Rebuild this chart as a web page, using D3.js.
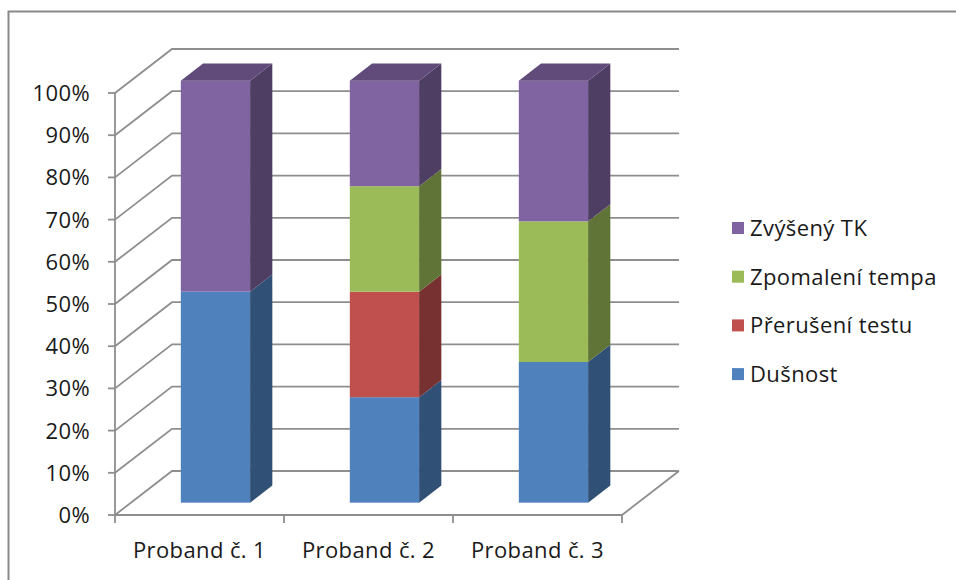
<!DOCTYPE html>
<html>
<head>
<meta charset="utf-8">
<script src="https://cdn.jsdelivr.net/npm/d3@7"></script>
<style>
  body { margin: 0; background: #fff; }
  text { font-family: "Open Sans", Lato, sans-serif; fill: #1a1a1a; letter-spacing: 0.4px; }
</style>
</head>
<body>
<div id="chart"></div>
<script>
/** Data */
var categories = ["Proband č. 1", "Proband č. 2", "Proband č. 3"];
var seriesNames = ["Dušnost", "Přerušení testu", "Zpomalení tempa", "Zvýšený TK"];
var dusnost = [1, 1, 1];
var preruseni = [0, 1, 0];
var zpomaleni = [0, 1, 1];
var zvyseny = [1, 1, 1];
var yTicks = [0, 0.1, 0.2, 0.3, 0.4, 0.5, 0.6, 0.7, 0.8, 0.9, 1];
var COLORS = ["#4F81BD", "#C0504D", "#9BBB59", "#8064A2"];

var width = 956, height = 580;

// front plane of the 3d box
var plot = {left: 115, right: 622, top: 93, bottom: 515};
// depth of the box in pixels
var depth = {dx: 57, dy: -44};
// bar front and back in box depth (0..1)
var barFront = 0.28, barBack = 0.67;

var svg = d3.select("#chart")
  .append("svg")
  .attr("width", width)
  .attr("height", height);

// outer chart border
svg.append("rect")
  .attr("x", 8.5)
  .attr("y", 11.5)
  .attr("width", 1000)
  .attr("height", 1000)
  .attr("fill", "none")
  .attr("stroke", "#898989")
  .attr("stroke-width", 2);

var x = d3.scaleBand()
  .domain(categories)
  .range([plot.left, plot.right])
  .padding(0);

var y = d3.scaleLinear()
  .domain([0, 1])
  .range([plot.bottom, plot.top]);

function off(p, d) {
  return [p[0] + depth.dx * d, p[1] + depth.dy * d];
}

// GRIDLINES (side wall + back wall) //
var grid = svg.append("g")
  .attr("stroke", "#8e8e8e")
  .attr("stroke-width", 1.8)
  .attr("fill", "none");

yTicks.forEach(function(t) {
  var p0 = [plot.left, y(t)];
  var p1 = off(p0, 1);
  var p2 = off([plot.right, y(t)], 1);
  grid.append("path")
    .attr("d", d3.line()([p0, p1, p2]));
});

// floor right edge + front axis
grid.append("path")
  .attr("d", d3.line()([[plot.left, plot.bottom], [plot.right, plot.bottom], off([plot.right, plot.bottom], 1)]));

// vertical axis line
grid.append("line")
  .attr("x1", plot.left).attr("x2", plot.left)
  .attr("y1", plot.top).attr("y2", plot.bottom);

// y ticks
yTicks.forEach(function(t) {
  grid.append("line")
    .attr("x1", plot.left - 7).attr("x2", plot.left)
    .attr("y1", y(t)).attr("y2", y(t));
});

// x ticks
var xEdges = categories.map(function(c) { return x(c); }).concat([plot.right]);
xEdges.forEach(function(e) {
  grid.append("line")
    .attr("x1", e).attr("x2", e)
    .attr("y1", plot.bottom).attr("y2", plot.bottom + 8);
});

// y labels
svg.append("g")
  .selectAll("text")
  .data(yTicks)
  .enter()
  .append("text")
    .attr("x", 90)
    .attr("y", function(d) { return y(d); })
    .attr("dy", "0.36em")
    .attr("text-anchor", "end")
    .style("font-size", "22px")
    .text(d3.format(".0%"));

// x labels
svg.append("g")
  .selectAll("text")
  .data(categories)
  .enter()
  .append("text")
    .attr("x", function(d) { return x(d) + x.bandwidth() / 2; })
    .attr("y", 558)
    .attr("text-anchor", "middle")
    .style("font-size", "22px")
    .text(function(d) { return d; });

// BARS //
var table = categories.map(function(c, i) {
  return {cat: c, "Dušnost": dusnost[i], "Přerušení testu": preruseni[i],
          "Zpomalení tempa": zpomaleni[i], "Zvýšený TK": zvyseny[i]};
});

var stacked = d3.stack()
  .keys(seriesNames)
  .offset(d3.stackOffsetExpand)(table);

var barW = x.bandwidth() * 0.41;
var bd = barBack - barFront;

var bars = svg.append("g");

categories.forEach(function(c, i) {
  var x0 = x(c) + (x.bandwidth() - barW) / 2;
  var x1 = x0 + barW;
  var topKey = -1;
  stacked.forEach(function(layer, k) {
    if (layer[i][1] - layer[i][0] > 0) topKey = k;
  });

  stacked.forEach(function(layer, k) {
    var v0 = layer[i][0], v1 = layer[i][1];
    if (v1 - v0 <= 0) return;
    var base = d3.color(COLORS[k]);
    var a = off([x0, y(v1)], barFront);
    var b = off([x1, y(v0)], barFront);

    // front face
    bars.append("rect")
      .attr("x", a[0])
      .attr("y", a[1])
      .attr("width", b[0] - a[0])
      .attr("height", b[1] - a[1])
      .attr("fill", base);

    // side face
    var s0 = off([x1, y(v1)], barFront);
    var s1 = off([x1, y(v0)], barFront);
    bars.append("path")
      .attr("d", d3.line()([s0, [s0[0] + depth.dx * bd, s0[1] + depth.dy * bd],
                            [s1[0] + depth.dx * bd, s1[1] + depth.dy * bd], s1]) + "Z")
      .attr("fill", base.darker(1.35));

    // top face
    if (k === topKey) {
      var t0 = off([x0, y(v1)], barFront);
      var t1 = off([x1, y(v1)], barFront);
      bars.append("path")
        .attr("d", d3.line()([t0, t1, [t1[0] + depth.dx * bd, t1[1] + depth.dy * bd],
                              [t0[0] + depth.dx * bd, t0[1] + depth.dy * bd]]) + "Z")
        .attr("fill", base.darker(0.8));
    }
  });
});

// LEGEND //
var legend = svg.append("g");
var legendOrder = seriesNames.slice().reverse();

legendOrder.forEach(function(name, i) {
  var k = seriesNames.indexOf(name);
  var cy = 228 + i * 48.7;
  legend.append("rect")
    .attr("x", 732)
    .attr("y", cy - 6)
    .attr("width", 12)
    .attr("height", 12)
    .attr("fill", COLORS[k]);
  legend.append("text")
    .attr("x", 750)
    .attr("y", cy)
    .attr("dy", "0.36em")
    .style("font-size", "22px")
    .text(name);
});
</script>
</body>
</html>
